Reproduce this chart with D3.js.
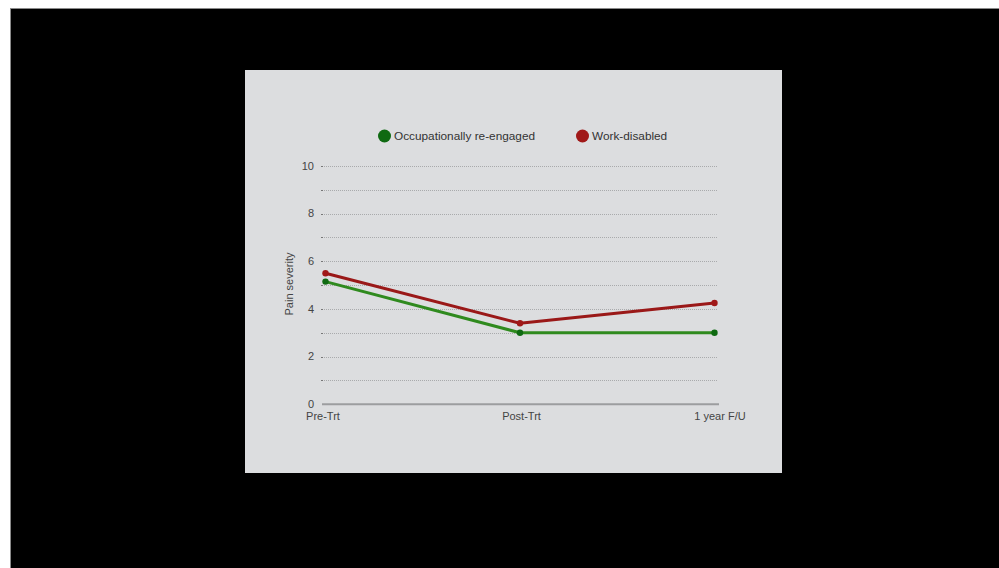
<!DOCTYPE html>
<html><head><meta charset="utf-8">
<script src="https://cdn.jsdelivr.net/npm/d3@7"></script>
<style>html,body{margin:0;padding:0;background:#fff;overflow:hidden}</style>
</head><body>
<svg id="c" width="999" height="568"></svg>
<script>
const categories = ["Pre-Trt", "Post-Trt", "1 year F/U"];
const seriesNames = ["Occupationally re-engaged", "Work-disabled"];
const reengaged = [5.15, 3.0, 3.0];
const disabled = [5.5, 3.4, 4.25];
const yTickLabels = [0, 2, 4, 6, 8, 10];
const gridValues = [1, 2, 3, 4, 5, 6, 7, 8, 9, 10];

const svg = d3.select("#c");
const font = "'Liberation Sans', Arial, Helvetica, sans-serif";

// outer frame
svg.append("rect").attr("x", 10.5).attr("y", 8.5).attr("width", 999).attr("height", 570)
  .attr("fill", "#000").attr("stroke", "#8a8a8a").attr("stroke-width", 1);
// panel
svg.append("rect").attr("x", 245).attr("y", 70).attr("width", 537).attr("height", 403).attr("fill", "#dcdddf");

const y = d3.scaleLinear().domain([0, 10]).range([404.3, 166]);
const x = d3.scalePoint().domain(categories).range([325.5, 714.5]);
const xLab = d3.scalePoint().domain(categories).range([323, 720]);

// gridlines
svg.append("g").selectAll("line").data(gridValues).join("line")
  .attr("x1", 324).attr("x2", 718)
  .attr("y1", d => Math.round(y(d)) + 0.5).attr("y2", d => Math.round(y(d)) + 0.5)
  .attr("stroke", "#a9aaac").attr("stroke-width", 1).attr("stroke-dasharray", "1,1");
// small tick dashes at left
svg.append("g").selectAll("line").data(gridValues).join("line")
  .attr("x1", 321).attr("x2", 323)
  .attr("y1", d => Math.round(y(d)) + 0.5).attr("y2", d => Math.round(y(d)) + 0.5)
  .attr("stroke", "#777").attr("stroke-width", 1);

// baseline axis
svg.append("line").attr("x1", 322).attr("x2", 719).attr("y1", y(0)).attr("y2", y(0))
  .attr("stroke", "#9c9d9f").attr("stroke-width", 2);

// y labels
svg.append("g").selectAll("text").data(yTickLabels).join("text")
  .attr("x", 314).attr("y", d => y(d)).attr("dy", "0.33em")
  .attr("text-anchor", "end").attr("font-family", font).attr("font-size", 11)
  .attr("fill", "#444").text(d => d);

// x labels
svg.append("g").selectAll("text").data(categories).join("text")
  .attr("x", d => xLab(d)).attr("y", 419.5)
  .attr("text-anchor", "middle").attr("font-family", font).attr("font-size", 11)
  .attr("fill", "#444").text(d => d);

// y title
svg.append("text").attr("transform", "translate(293,284) rotate(-90)")
  .attr("text-anchor", "middle").attr("font-family", font).attr("font-size", 11)
  .attr("fill", "#444").text("Pain severity");

const series = [
  {name: seriesNames[0], values: reengaged, line: "#2f8a1e", dot: "#0f6a12"},
  {name: seriesNames[1], values: disabled, line: "#9a1818", dot: "#a01818"}
];
const lineGen = d3.line().x((d, i) => x(categories[i])).y(d => y(d));
series.forEach(s => {
  svg.append("path").attr("d", lineGen(s.values)).attr("fill", "none")
    .attr("stroke", s.line).attr("stroke-width", 3).attr("stroke-linejoin", "round");
  svg.append("g").selectAll("circle").data(s.values).join("circle")
    .attr("cx", (d, i) => x(categories[i])).attr("cy", d => y(d)).attr("r", 3.2)
    .attr("fill", s.dot);
});

// legend
const legX = [384.5, 582.5];
series.forEach((s, i) => {
  svg.append("circle").attr("cx", legX[i]).attr("cy", 136).attr("r", 6.5).attr("fill", s.dot);
  svg.append("text").attr("x", legX[i] + 9.5).attr("y", 136).attr("dy", "0.36em")
    .attr("font-family", font).attr("font-size", 11.8).attr("fill", "#333").text(s.name);
});
</script>
</body></html>
